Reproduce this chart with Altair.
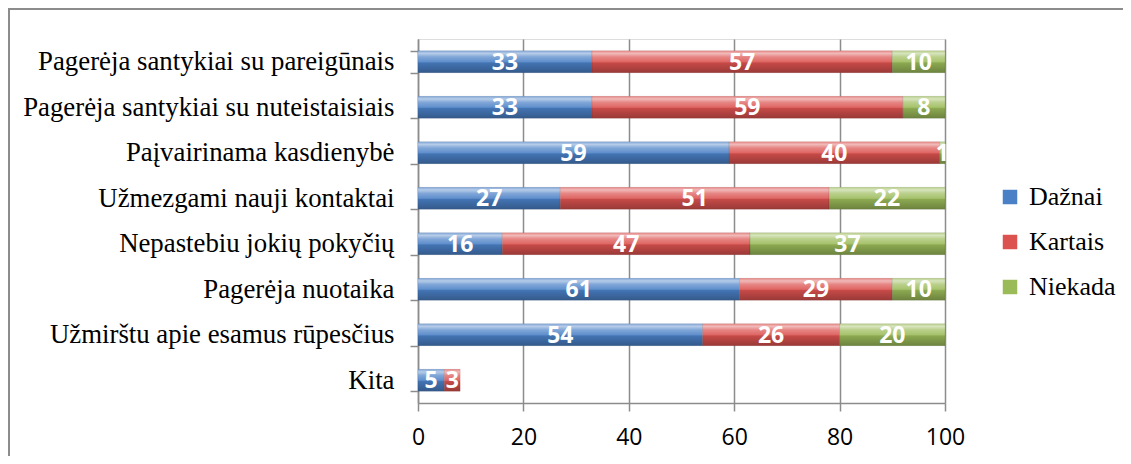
import altair as alt
import pandas as pd

categories = [
    "Pagerėja santykiai su pareigūnais",
    "Pagerėja santykiai su nuteistaisiais",
    "Paįvairinama kasdienybė",
    "Užmezgami nauji kontaktai",
    "Nepastebiu jokių pokyčių",
    "Pagerėja nuotaika",
    "Užmirštu apie esamus rūpesčius",
    "Kita",
]
series = ["Dažnai", "Kartais", "Niekada"]
dazna = [33, 33, 59, 27, 16, 61, 54, 5]
kartais = [57, 59, 40, 51, 47, 29, 26, 3]
niekada = [10, 8, 1, 22, 37, 10, 20, 0]
colors = ["#4a80c6", "#db524f", "#9bbb59"]

rows = []
for i, c in enumerate(categories):
    for j, (s, vals) in enumerate(zip(series, [dazna, kartais, niekada])):
        if vals[i] > 0:
            rows.append({"cat": c, "series": s, "order": j, "value": vals[i]})
df = pd.DataFrame(rows)

W, H = 527, 364

y_enc = alt.Y("cat:N", sort=categories, title=None,
              scale=alt.Scale(paddingInner=0.52, paddingOuter=0.26),
              axis=alt.Axis(labelFont="Liberation Serif", labelFontSize=26.8,
                            labelColor="#000000", labelPadding=16, tickSize=8,
                            tickBand="extent", tickColor="#8c8c8c",
                            domainColor="#8c8c8c", domainWidth=1.5, tickWidth=1.5,
                            labelLimit=500))
x_enc = alt.X("sum(value):Q", title=None, stack="zero",
              scale=alt.Scale(domain=[0, 100], nice=False),
              axis=alt.Axis(values=[0, 20, 40, 60, 80, 100], labelFont="Open Sans",
                            labelFontSize=23, labelColor="#000000", labelPadding=15,
                            labelFlush=False, labelOverlap=False,
                            tickSize=8, tickColor="#8c8c8c", domainColor="#8c8c8c",
                            domainWidth=1.5, tickWidth=1.5, grid=True,
                            gridColor="#8c8c8c", gridWidth=1.5))

base = alt.Chart(df)

bars = base.mark_bar(size=22).encode(
    y=y_enc,
    x=x_enc,
    color=alt.Color("series:N", sort=series,
                    scale=alt.Scale(domain=series, range=colors),
                    legend=alt.Legend(title=None, orient="none", legendX=579, legendY=145,
                                      labelFont="Liberation Serif", labelFontSize=26,
                                      labelColor="#000000", symbolType="square",
                                      symbolSize=210, symbolStrokeWidth=0,
                                      rowPadding=19, labelOffset=6)),
    order=alt.Order("order:Q"),
)

shine = alt.Gradient(
    gradient="linear", x1=0, y1=0, x2=0, y2=1,
    stops=[
        alt.GradientStop(offset=0, color="rgba(255,255,255,0.3)"),
        alt.GradientStop(offset=0.12, color="rgba(255,255,255,0.6)"),
        alt.GradientStop(offset=0.28, color="rgba(255,255,255,0.3)"),
        alt.GradientStop(offset=0.5, color="rgba(255,255,255,0.12)"),
        alt.GradientStop(offset=0.56, color="rgba(0,0,0,0.1)"),
        alt.GradientStop(offset=1, color="rgba(0,0,0,0.3)"),
    ],
)
overlay = base.mark_bar(size=22, fill=shine, stroke="rgba(0,0,0,0.15)", strokeWidth=0.5).encode(
    y=alt.Y("cat:N", sort=categories),
    x=alt.X("sum(value):Q", stack="zero"),
    detail="series:N",
    order=alt.Order("order:Q"),
)

labels = base.mark_text(font="Open Sans", fontSize=23, fontWeight="bold",
                        color="white", dy=1).transform_stack(
    stack="value", groupby=["cat"], sort=[alt.SortField("order")], as_=["x0", "x1"]
).transform_calculate(mid="(datum.x0 + datum.x1) / 2").encode(
    y=alt.Y("cat:N", sort=categories),
    x=alt.X("mid:Q"),
    text="value:Q",
)

one = pd.DataFrame({"a": [0]})
border_top = alt.Chart(one).mark_rule(stroke="#8c8c8c", strokeWidth=2).encode(
    x=alt.value(-410), x2=alt.value(760), y=alt.value(-30)
)
border_left = alt.Chart(one).mark_rule(stroke="#8c8c8c", strokeWidth=2).encode(
    x=alt.value(-409), y=alt.value(-31), y2=alt.value(480)
)

chart = alt.layer(border_top, border_left, bars, overlay, labels).properties(
    width=W, height=H,
    autosize=alt.AutoSizeParams(type="none"),
    padding={"left": 410, "top": 31, "right": 178, "bottom": 53},
).configure_view(stroke=None).configure(background="white")

chart.save("out.html", embed_options={"renderer": "svg", "actions": False})
